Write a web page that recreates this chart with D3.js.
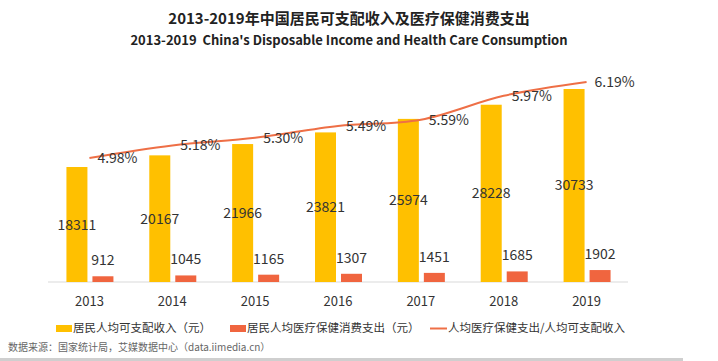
<html>
<head>
<meta charset="utf-8">
<script src="https://cdn.jsdelivr.net/npm/d3@7/dist/d3.min.js"></script>
<style>
  body { margin: 0; background: #fff; }
  text { font-family: "Noto Sans CJK SC", "Noto Sans", sans-serif; }
</style>
</head>
<body>
<svg></svg>
<script>
var years = ['2013', '2014', '2015', '2016', '2017', '2018', '2019'];
var income = [18311, 20167, 21966, 23821, 25974, 28228, 30733];
var health = [912, 1045, 1165, 1307, 1451, 1685, 1902];
var ratio = [4.98, 5.18, 5.30, 5.49, 5.59, 5.97, 6.19];
var legendLabels = ['居民人均可支配收入（元）', '居民人均医疗保健消费支出（元）', '人均医疗保健支出/人均可支配收入'];

var yellow = '#FFC000', red = '#F0653F', lineColor = '#EE6F46', ink = '#333';

var svg = d3.select('svg').attr('width', 718).attr('height', 361);

var x = d3.scaleBand().domain(years).range([48, 628]);
var y = d3.scaleLinear().domain([0, 35000]).range([282, 62.2]);
var y2 = d3.scaleLinear().domain([4, 6.5]).range([219.5, 62.5]);
var cx = function(d) { return x(d) + x.bandwidth() / 2; };

// titles
svg.append('text')
  .attr('x', 349).attr('y', 23.5)
  .attr('text-anchor', 'middle')
  .attr('font-size', 15).attr('font-weight', 'bold').attr('fill', '#222')
  .text('2013-2019年中国居民可支配收入及医疗保健消费支出');
svg.append('text')
  .attr('x', 349).attr('y', 44.5)
  .attr('text-anchor', 'middle')
  .attr('font-size', 13).attr('font-weight', 'bold').attr('fill', '#222')
  .attr('xml:space', 'preserve')
  .text('2013-2019  China\'s Disposable Income and Health Care Consumption');

// baseline
svg.append('line')
  .attr('x1', 48).attr('x2', 628)
  .attr('y1', y(0)).attr('y2', y(0))
  .attr('stroke', '#d9d9d9').attr('stroke-width', 1);

// income bars
svg.selectAll('.inc')
  .data(years)
  .enter()
  .append('rect')
  .attr('class', 'inc')
  .attr('x', function(d) { return cx(d) - 23; })
  .attr('y', function(d, i) { return y(income[i]); })
  .attr('width', 21)
  .attr('height', function(d, i) { return y(0) - y(income[i]); })
  .attr('fill', yellow);

// health bars
svg.selectAll('.hea')
  .data(years)
  .enter()
  .append('rect')
  .attr('class', 'hea')
  .attr('x', function(d) { return cx(d) + 3; })
  .attr('y', function(d, i) { return y(health[i]); })
  .attr('width', 21)
  .attr('height', function(d, i) { return y(0) - y(health[i]); })
  .attr('fill', red);

// ratio line
var line = d3.line()
  .x(function(d, i) { return cx(years[i]); })
  .y(function(d) { return y2(d); })
  .curve(d3.curveCatmullRom.alpha(0.5));
svg.append('path')
  .datum(ratio)
  .attr('d', line)
  .attr('fill', 'none')
  .attr('stroke', lineColor)
  .attr('stroke-width', 2);

// labels
svg.selectAll('.inc-lab')
  .data(years)
  .enter()
  .append('text')
  .attr('x', function(d) { return cx(d) - 12.5; })
  .attr('y', function(d, i) { return (y(income[i]) + y(0)) / 2 + 5; })
  .attr('text-anchor', 'middle')
  .attr('font-size', 14).attr('fill', ink)
  .text(function(d, i) { return income[i]; });

svg.selectAll('.hea-lab')
  .data(years)
  .enter()
  .append('text')
  .attr('x', function(d) { return cx(d) + 13.5; })
  .attr('y', function(d, i) { return y(health[i]) - 11; })
  .attr('text-anchor', 'middle')
  .attr('font-size', 14).attr('fill', ink)
  .text(function(d, i) { return health[i]; });

svg.selectAll('.rat-lab')
  .data(years)
  .enter()
  .append('text')
  .attr('x', function(d) { return cx(d) + 8; })
  .attr('y', function(d, i) { return y2(ratio[i]) + 5; })
  .attr('font-size', 14).attr('fill', ink)
  .text(function(d, i) { return ratio[i].toFixed(2) + '%'; });

// x axis labels
svg.selectAll('.year')
  .data(years)
  .enter()
  .append('text')
  .attr('x', cx)
  .attr('y', 305.5)
  .attr('text-anchor', 'middle')
  .attr('font-size', 13).attr('fill', ink)
  .text(function(d) { return d; });

// legend
var lg = svg.append('g');
lg.append('rect').attr('x', 56).attr('y', 325).attr('width', 16).attr('height', 7).attr('fill', yellow);
lg.append('text').attr('x', 73).attr('y', 332).attr('font-size', 11.5).attr('fill', ink).text(legendLabels[0]);
lg.append('rect').attr('x', 230).attr('y', 325).attr('width', 16).attr('height', 7).attr('fill', red);
lg.append('text').attr('x', 247).attr('y', 332).attr('font-size', 11.5).attr('fill', ink).text(legendLabels[1]);
lg.append('line').attr('x1', 430).attr('x2', 447).attr('y1', 328.5).attr('y2', 328.5).attr('stroke', lineColor).attr('stroke-width', 2);
lg.append('text').attr('x', 448).attr('y', 332).attr('font-size', 11.5).attr('fill', ink).text(legendLabels[2]);

// source
svg.append('text')
  .attr('x', 8).attr('y', 350.5)
  .attr('font-size', 10).attr('fill', '#666')
  .text('数据来源：国家统计局，艾媒数据中心（data.iimedia.cn）');

svg.append('rect')
  .attr('x', 0).attr('y', 358).attr('width', 683).attr('height', 3)
  .attr('fill', '#cfcfcf');
</script>
</body>
</html>
